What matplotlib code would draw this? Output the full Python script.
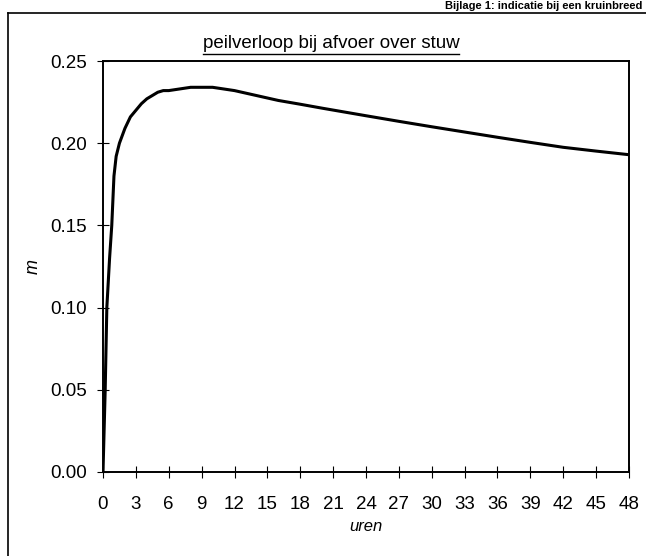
import matplotlib
matplotlib.use("Agg")
import matplotlib.pyplot as plt
from matplotlib.lines import Line2D

plt.rcParams['font.family'] = ['Liberation Sans', 'DejaVu Sans']

# data
uren = [0, 0.2, 0.35, 0.6, 0.8, 1.0, 1.2, 1.5, 2, 2.5, 3, 3.5, 4, 4.5, 5, 5.5, 6,
        7, 8, 9, 10, 11, 12, 14, 16, 18, 20, 22, 24, 27, 30, 33, 36, 39, 42, 45, 48]
peil = [0, 0.05, 0.10, 0.13, 0.15, 0.18, 0.192, 0.200, 0.209, 0.216, 0.220, 0.224,
        0.227, 0.229, 0.231, 0.232, 0.232, 0.233, 0.234, 0.234, 0.234, 0.233, 0.232,
        0.229, 0.226, 0.2237, 0.2213, 0.219, 0.2167, 0.2133, 0.210, 0.2068, 0.2036,
        0.2005, 0.1975, 0.1952, 0.193]
x_ticks = list(range(0, 49, 3))
y_ticks = [0.00, 0.05, 0.10, 0.15, 0.20, 0.25]
title = "peilverloop bij afvoer over stuw"
header = "Bijlage 1: indicatie bij een kruinbreed"

fig = plt.figure(figsize=(6.46, 5.56), dpi=100)
ax = fig.add_axes([103/646, 1-472/556, (629-103)/646, (472-61)/556])
ax.plot(uren, peil, color='black', lw=2.2)
ax.set_xlim(0, 48)
ax.set_ylim(0, 0.25)
ax.set_xticks(x_ticks)
ax.set_yticks(y_ticks)
ax.set_yticklabels([f"{v:.2f}" for v in y_ticks])
ax.tick_params(direction='inout', length=9, width=0.8, labelsize=13.5, pad=7, colors='black')
ax.tick_params(axis='x', pad=13)
for s in ax.spines.values():
    s.set_linewidth(1.4)
ax.set_xlabel("uren", fontsize=12, style='italic', labelpad=4)
ax.set_ylabel("m", fontsize=13, style='italic', labelpad=6)
t = fig.text(331/646, 1-44/556, title, ha='center', va='center', fontsize=13.5)

# page frame lines
fig.add_artist(Line2D([8/646, 8/646], [0, 1-13/556], color='black', lw=1.2))
fig.add_artist(Line2D([8/646, 1], [1-13/556, 1-13/556], color='black', lw=1.2))
fig.text(0.995, 1-1/556, header, ha='right', va='top', fontsize=8, fontweight='bold')

# underline under the title text
fig.canvas.draw()
bb = t.get_window_extent().transformed(fig.transFigure.inverted())
fig.add_artist(Line2D([bb.x0, bb.x1], [bb.y0 - 1/556, bb.y0 - 1/556], color='black', lw=1.0))

fig.savefig("out.png", dpi=100)
